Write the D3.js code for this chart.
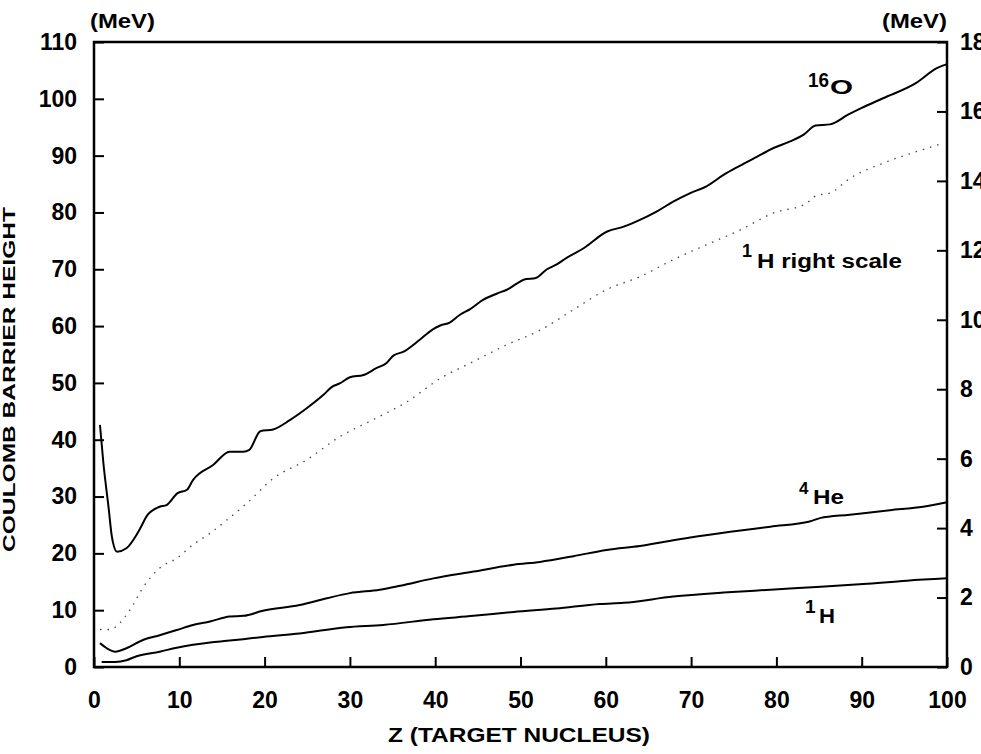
<!DOCTYPE html>
<html>
<head>
<meta charset="utf-8">
<script src="https://cdn.jsdelivr.net/npm/d3@7/dist/d3.min.js"></script>
<style>
  body { margin: 0; background: #fff; }
  svg text { font-family: "Liberation Sans", Arial, sans-serif; font-weight: bold; fill: #000; }
</style>
</head>
<body>
<svg class="chart"></svg>
<script>
// 16O, left scale (MeV)
let zO16 = [0.7, 1.1, 1.7, 2.1, 2.7, 3.8, 5.2, 6.3, 7.7, 8.5, 9.8, 10.9, 11.6, 14, 15.9, 17.5, 18.2, 19.5, 21, 23,
  24.9, 26.9, 27.9, 28.8, 30, 31.6, 33.1, 34.3, 35.1, 36.3, 38.2, 39.6, 40.6, 41.7, 42.9, 44.1, 45.6, 47.2, 48.4, 50.7,
  51.7, 53.1, 54.3, 55.4, 57.4, 60.1, 62.1, 64, 66, 67.9, 69.9, 71.8, 73.8, 75.7, 77.7, 79.6, 81.6, 83.2, 84.6, 86.3,
  88.4, 90, 92.5, 96.4, 98.8, 100];
let vO16 = [42.6, 35.9, 28.2, 22.9, 20.3, 20.9, 23.8, 26.8, 28.2, 28.5, 30.6, 31.2, 32.9, 35.6, 37.9, 37.9, 38.2, 41.5, 41.8, 43.5,
  45.5, 47.9, 49.3, 49.9, 51.0, 51.4, 52.6, 53.5, 54.8, 55.5, 57.6, 59.3, 60.1, 60.6, 62.0, 63.0, 64.6, 65.7, 66.4, 68.3,
  68.4, 70.0, 70.9, 72.0, 73.7, 76.6, 77.5, 78.7, 80.2, 81.9, 83.4, 84.6, 86.6, 88.2, 89.8, 91.3, 92.5, 93.7, 95.3, 95.5,
  97.2, 98.4, 100.1, 102.8, 105.4, 106.1];

// 1H, right scale (MeV), dotted
let zH1r = [0.7, 1.9, 3.0, 4.2, 5.8, 7.7, 9.7, 11.6, 13.6, 15.6, 17.9, 21.0, 24.9, 28.8, 32.7, 36.7, 40.6, 44.5, 48.4, 52.3,
  56.2, 60.1, 64.0, 67.9, 71.8, 75.7, 79.6, 83.5, 84.7, 86.3, 88.6, 92.5, 96.4, 99.6];
let vH1r = [1.08, 1.08, 1.26, 1.64, 2.31, 2.85, 3.13, 3.52, 3.85, 4.24, 4.71, 5.43, 5.96, 6.63, 7.12, 7.64, 8.31, 8.80, 9.28, 9.70,
  10.29, 10.87, 11.24, 11.73, 12.16, 12.58, 13.07, 13.35, 13.58, 13.65, 14.07, 14.51, 14.84, 15.09];

// 4He, left scale
let zHe4 = [0.7, 1.5, 2.5, 3.8, 5.8, 7.7, 9.7, 11.6, 13.6, 15.9, 17.5, 19.8, 24.1, 27.3, 30, 33.5, 35.9, 39.8, 44.5, 49.2,
  52.3, 56.2, 60.1, 64, 69.9, 74.6, 79.3, 83.9, 85.1, 88.6, 93.3, 97.2, 100];
let vHe4 = [4.2, 3.3, 2.7, 3.3, 4.8, 5.6, 6.5, 7.4, 8.0, 8.9, 9.0, 9.9, 10.9, 12.1, 13.0, 13.6, 14.3, 15.6, 16.8, 18.0,
  18.5, 19.5, 20.6, 21.3, 22.8, 23.8, 24.7, 25.6, 26.2, 26.8, 27.6, 28.2, 29.0];

// 1H, left scale
let zH1 = [0.9, 2.5, 3.8, 5.0, 7.7, 9.7, 11.6, 13.6, 15.6, 17.5, 19.8, 24.1, 29.6, 33.9, 39.8, 44.5, 49.2, 54.2, 59.3, 62.1,
  67.9, 73.8, 79.3, 84.7, 90.2, 95.3, 100];
let vH1 = [0.9, 0.9, 1.2, 1.9, 2.7, 3.4, 3.9, 4.3, 4.6, 4.9, 5.3, 5.9, 7.0, 7.4, 8.4, 9.0, 9.7, 10.3, 11.1, 11.3,
  12.4, 13.1, 13.6, 14.1, 14.6, 15.2, 15.6];

let xTicks = [0, 10, 20, 30, 40, 50, 60, 70, 80, 90, 100];
let leftTicks = [0, 10, 20, 30, 40, 50, 60, 70, 80, 90, 100, 110];
let rightTicks = [0, 2, 4, 6, 8, 10, 12, 14, 16, 18];

let margin = {top: 42, right: 34, bottom: 87, left: 94},
  width = 981 - margin.left - margin.right,
  height = 754 - margin.top - margin.bottom;

let svg = d3.select('.chart')
  .attr('width', 981)
  .attr('height', 754);

let g = svg.append('g')
  .attr('transform', 'translate(' + margin.left + ',' + margin.top + ')');

let x = d3.scaleLinear().domain([0, 100]).range([0, width]);
let yLeft = d3.scaleLinear().domain([0, 110]).range([height, 0]);
let yRight = d3.scaleLinear().domain([0, 18]).range([height, 0]);

// Axes with inward ticks
let styleAxis = function (sel) {
  sel.select('.domain').remove();
  sel.selectAll('line').attr('stroke', '#000').attr('stroke-width', 2);
  sel.selectAll('text').attr('font-size', 23).attr('font-family', null);
};

g.append('g')
  .attr('transform', 'translate(0,' + height + ')')
  .call(d3.axisBottom(x).tickValues(xTicks).tickSize(-10).tickPadding(25))
  .call(styleAxis);

g.append('g')
  .call(d3.axisLeft(yLeft).tickValues(leftTicks).tickSize(-10).tickPadding(17))
  .call(styleAxis);

g.append('g')
  .attr('transform', 'translate(' + width + ',0)')
  .call(d3.axisRight(yRight).tickValues(rightTicks).tickSize(-10).tickPadding(13))
  .call(styleAxis);

// Frame
g.append('rect')
  .attr('width', width)
  .attr('height', height)
  .attr('fill', 'none')
  .attr('stroke', '#000')
  .attr('stroke-width', 2.5);

// Curves
let series = [
  {z: zO16, v: vO16, y: yLeft, dotted: false},
  {z: zHe4, v: vHe4, y: yLeft, dotted: false},
  {z: zH1, v: vH1, y: yLeft, dotted: false},
  {z: zH1r, v: vH1r, y: yRight, dotted: true}
];

series.forEach((s) => {
  let line = d3.line()
    .x((d, i) => x(s.z[i]))
    .y((d) => s.y(d))
    .curve(d3.curveMonotoneX);
  g.append('path')
    .datum(s.v)
    .attr('d', line)
    .attr('fill', 'none')
    .attr('stroke', s.dotted ? '#444' : '#000')
    .attr('stroke-width', s.dotted ? 1.3 : 2)
    .attr('stroke-dasharray', s.dotted ? '1.5,6' : null);
});

// Text helper: stretched bold text like the original scan
let label = function (str, px, py, size, len) {
  let t = svg.append('text')
    .attr('x', px)
    .attr('y', py)
    .attr('font-size', size)
    .text(str);
  if (len) t.attr('textLength', len).attr('lengthAdjust', 'spacingAndGlyphs');
  return t;
};

label('(MeV)', 90, 28, 21, 65);
label('(MeV)', 882, 28, 21, 65);

label('16', 808, 87, 21, 21);
label('O', 830, 94, 21, 23);

label('1', 742, 257, 18);
label('H right scale', 757, 268, 20, 145);

label('4', 799, 494, 17);
label('He', 813, 504, 20, 31);

label('1', 805, 613, 19);
label('H', 819, 623, 20, 16);

label('Z (TARGET NUCLEUS)', 388, 742, 21, 262);

svg.append('text')
  .attr('transform', 'translate(15,' + 552 + ') rotate(-90)')
  .attr('font-size', 17)
  .attr('textLength', 345)
  .attr('lengthAdjust', 'spacingAndGlyphs')
  .text('COULOMB BARRIER HEIGHT');
</script>
</body>
</html>
